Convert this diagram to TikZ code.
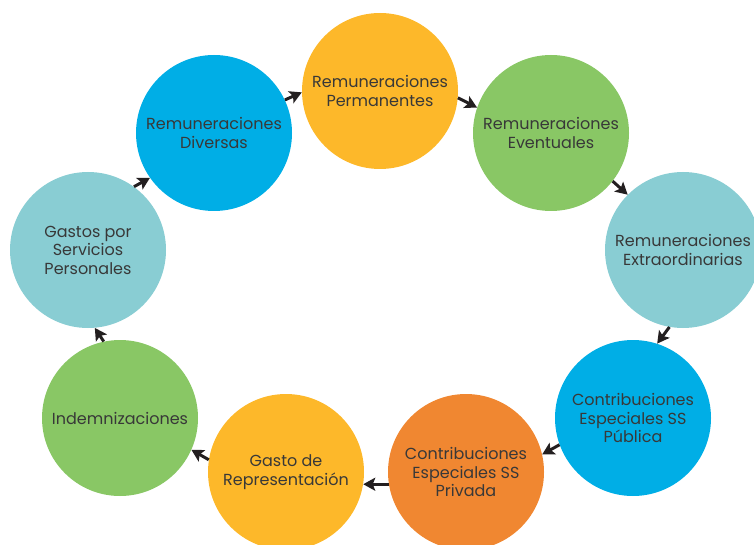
\documentclass[tikz,border=0pt]{standalone}
\usepackage{fontspec}
\setmainfont{Poppins}
\usepackage{tikz}
\usetikzlibrary{arrows.meta}

\definecolor{cyellow}{HTML}{FDB82A}
\definecolor{cblue}{HTML}{00AEE6}
\definecolor{cgreen}{HTML}{89C765}
\definecolor{cteal}{HTML}{89CDD3}
\definecolor{corange}{HTML}{F08731}
\definecolor{ctext}{HTML}{383838}
\definecolor{carrow}{HTML}{231F20}

\begin{document}
\begin{tikzpicture}[x=1pt,y=-1pt,
										bubble/.style={circle, fill=#1, minimum size=156pt, inner sep=0pt,
																	align=center, text=ctext, font=\fontsize{16}{18.5}\selectfont},
										flow/.style={-{Stealth[length=12pt,width=13pt,inset=2.5pt]},
																	line width=3pt, draw=carrow}]
	\clip (0,0) rectangle (754,545);
	\useasboundingbox (0,0) rectangle (754,545);
	% circles
	\node [bubble=cyellow] (perm) at (380,91) {Remuneraciones\\Permanentes};
	\node [bubble=cblue] (div) at (214,133) {Remuneraciones\\Diversas};
	\node [bubble=cgreen] (event) at (551,133) {Remuneraciones\\Eventuales};
	\node [bubble=cteal] (gastos) at (88,250) {Gastos por\\Servicios\\Personales};
	\node [bubble=cteal] (extra) at (683,250) {Remuneraciones\\Extraordinarias};
	\node [bubble=cgreen] (indem) at (120,418) {Indemnizaciones};
	\node [bubble=cblue] (pub) at (633,418) {Contribuciones\\Especiales SS\\Pública};
	\node [bubble=cyellow] (repr) at (286,472) {Gasto de\\Representación};
	\node [bubble=corange] (priv) at (466,472) {Contribuciones\\Especiales SS\\Privada};
	% arrows
	\draw [flow] (gastos.54) -- (div.215);
	\draw [flow] (div.25) -- (perm.181);
	\draw [flow] (perm.-5) -- (event.161);
	\draw [flow] (event.-38) -- (extra.135);
	\draw [flow] (extra.260) -- (pub.72);
	\draw [flow] (pub.200) -- (priv.13);
	\draw [flow] (priv.189) -- (repr.-9);
	\draw [flow] (repr.171) -- (indem.-24);
	\draw [flow] (indem.102) -- (gastos.-85);
\end{tikzpicture}
\end{document}
